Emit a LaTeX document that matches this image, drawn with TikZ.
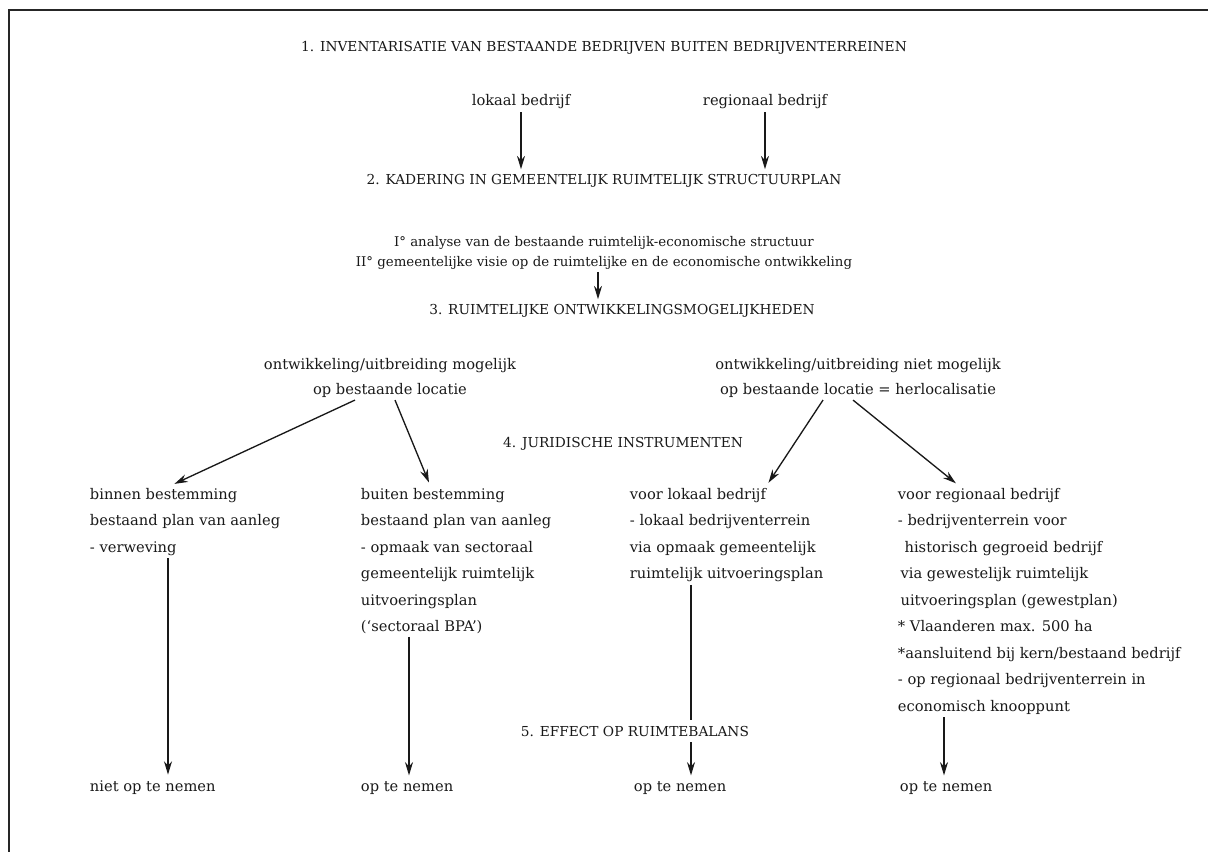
\documentclass[tikz,border=0pt]{standalone}
\usepackage{fontspec}
\setmainfont{DejaVu Serif}
\usetikzlibrary{arrows.meta, positioning, calc}

\begin{document}
\begin{tikzpicture}[
  x=0.75pt, y=-0.75pt,
  every node/.style={inner sep=2pt, text=black!90},
  txt/.style={font=\fontsize{11}{19.9}\selectfont},
  col/.style={txt, align=left, anchor=north west},
  head/.style={font=\fontsize{10.3}{12}\selectfont, anchor=base},
  uitkomst/.style={txt, anchor=base west},
  arr/.style={-{Stealth[length=10pt, width=6pt]}, line width=1pt, draw=black!90, shorten >=2pt},
  frame/.style={line width=1.5pt, draw=black!85},
]
\useasboundingbox (0,0) rectangle (1208,852);

% ------------------------------------------------------------------ frame
\draw[frame] (9,852) -- (9,10) -- (1208,10);

% ---------------------------------------------------------- steps 1 and 2
\node[head] (inv) at (604,52) {1. INVENTARISATIE VAN BESTAANDE BEDRIJVEN BUITEN BEDRIJVENTERREINEN};
\node[txt, anchor=base] (lok) at (521,106) {lokaal bedrijf};
\node[txt, anchor=base] (reg) at (765,106) {regionaal bedrijf};
\node[head] (kad) at (604,185) {2. KADERING IN GEMEENTELIJK RUIMTELIJK STRUCTUURPLAN};
\node[font=\fontsize{10}{15}\selectfont, align=center, anchor=north] (visie) at (604,233)
  {I° analyse van de bestaande ruimtelijk-economische structuur\\
   II° gemeentelijke visie op de ruimtelijke en de economische ontwikkeling};

% ---------------------------------------------------------- steps 3 and 4
\node[head] (ruim) at (622,315) {3. RUIMTELIJKE ONTWIKKELINGSMOGELIJKHEDEN};
\node[txt, font=\fontsize{11}{18.75}\selectfont, align=center, anchor=north] (mog) at (390,355)
  {ontwikkeling/uitbreiding mogelijk\\ op bestaande locatie};
\node[txt, font=\fontsize{11}{18.75}\selectfont, align=center, anchor=north] (nietmog) at (858,355)
  {ontwikkeling/uitbreiding niet mogelijk\\ op bestaande locatie = herlocalisatie};
\node[head] (jur) at (623,448) {4. JURIDISCHE INSTRUMENTEN};

% ---------------------------------------------------------------- columns
\node[col] (binnen) at (87,485) {binnen bestemming\\ bestaand plan van aanleg\\ - verweving};
\node[col] (buiten) at (358,485) {buiten bestemming\\ bestaand plan van aanleg\\ - opmaak van sectoraal\\
  gemeentelijk ruimtelijk\\ uitvoeringsplan\\ (‘sectoraal BPA’)};
\node[col] (lokplan) at (627,485) {voor lokaal bedrijf\\ - lokaal bedrijventerrein\\ via opmaak gemeentelijk\\
  ruimtelijk uitvoeringsplan};
\node[col] (regplan) at (895,485) {voor regionaal bedrijf\\ - bedrijventerrein voor\\
  \hspace*{5pt}historisch gegroeid bedrijf\\ \hspace*{2pt}via gewestelijk ruimtelijk\\
  \hspace*{2pt}uitvoeringsplan (gewestplan)\\ * Vlaanderen max. 500 ha\\
  *aansluitend bij kern/bestaand bedrijf\\ - op regionaal bedrijventerrein in\\ economisch knooppunt};

% ------------------------------------------------------------------ step 5
\node[uitkomst] (niet) at (87,791) {niet op te nemen};
\node[uitkomst] (op2) at (358,791) {op te nemen};
\node[uitkomst] (op3) at (631,791) {op te nemen};
\node[uitkomst] (op4) at (897,791) {op te nemen};

% ----------------------------------------------------------------- arrows
\coordinate (v1) at ([xshift=-4.5pt]visie.south);
\coordinate (k1) at ([xshift=60.75pt]binnen.south west);
\coordinate (k2) at ([xshift=38.25pt]buiten.south west);
\coordinate (k3) at ([xshift=48pt]lokplan.south west);
\coordinate (k4) at ([xshift=36.75pt]regplan.south west);

\draw[arr] (lok) -- (lok |- kad.north);
\draw[arr] (reg) -- (reg |- kad.north);
\draw[arr] (v1) -- (v1 |- ruim.north);
\draw[arr] ([xshift=-26.25pt]mog.south) -- ([xshift=63.75pt]binnen.north west);
\draw[arr] ([xshift=3.75pt]mog.south) -- ([xshift=54pt]buiten.north west);
\draw[arr] ([xshift=-26.25pt]nietmog.south) -- ([xshift=105pt]lokplan.north west);
\draw[arr] ([xshift=-3.75pt]nietmog.south) -- ([xshift=47.25pt]regplan.north west);
\draw[arr] (k1) -- (k1 |- niet.north);
\draw[arr] (k2) -- (k2 |- op2.north);
\draw[arr] (k3) -- (k3 |- op3.north);
\draw[arr] (k4) -- (k4 |- op4.north);

\node[head, fill=white, inner ysep=4pt, anchor=base west] (eff) at (518,736) {5. EFFECT OP RUIMTEBALANS};

\end{tikzpicture}
\end{document}
